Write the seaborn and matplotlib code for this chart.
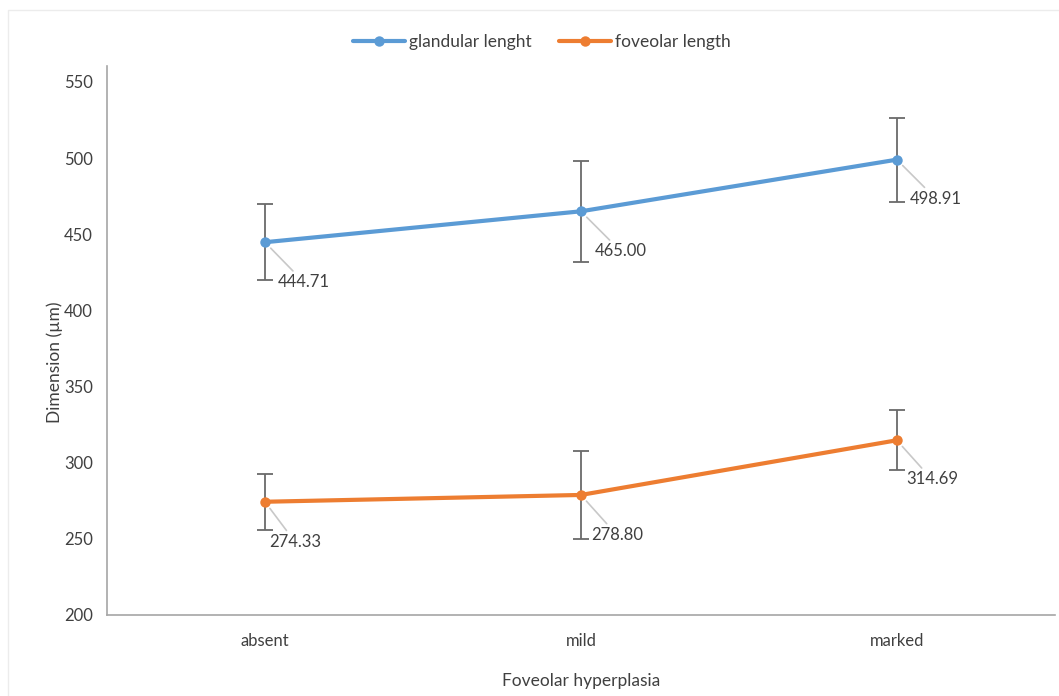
import matplotlib
matplotlib.use("Agg")
import matplotlib.pyplot as plt
import seaborn as sns
import pandas as pd
from matplotlib.patches import Rectangle

# Data
categories = ["absent", "mild", "marked"]
glandular_mean = [444.71, 465.00, 498.91]
glandular_err = [25.0, 33.0, 27.5]
foveolar_mean = [274.33, 278.80, 314.69]
foveolar_err = [18.4, 29.0, 19.7]
series_names = ["glandular lenght", "foveolar length"]
y_ticks = [200, 250, 300, 350, 400, 450, 500, 550]

colors = {"glandular lenght": "#5B9BD5", "foveolar length": "#ED7D31"}
text_color = "#404040"

sns.set_theme(style="white")
plt.rcParams["font.family"] = ["Lato", "DejaVu Sans"]

df = pd.DataFrame({
    "group": categories * 2,
    "series": [series_names[0]] * 3 + [series_names[1]] * 3,
    "value": glandular_mean + foveolar_mean,
    "err": glandular_err + foveolar_err,
})

fig = plt.figure(figsize=(10.59, 6.96), dpi=100)
ax = fig.add_axes([0.101, 0.1164, 0.895, 0.789])

# Light chart-area border
fig.patches.append(Rectangle((8 / 1059, -0.01), 1.02, (686 / 696) + 0.01,
                             transform=fig.transFigure, fill=False,
                             edgecolor="#ececec", linewidth=1.0))

sns.lineplot(data=df, x="group", y="value", hue="series", palette=colors,
             marker="o", markersize=7.5, markeredgewidth=0, linewidth=3,
             sort=False, ax=ax, zorder=3)

pos = {c: i for i, c in enumerate(categories)}
for _, r in df.iterrows():
    ax.errorbar(pos[r["group"]], r["value"], yerr=r["err"], fmt="none",
                ecolor="#6a6a6a", elinewidth=1.3, capsize=6, capthick=1.3,
                zorder=2)

# Value labels with leader lines
offsets = {
    (series_names[0], "absent"): (39, -40),
    (series_names[0], "mild"): (40, -40),
    (series_names[0], "marked"): (39, -39),
    (series_names[1], "absent"): (30, -40),
    (series_names[1], "mild"): (36, -40),
    (series_names[1], "marked"): (35, -39),
}
for _, r in df.iterrows():
    dx, dy = offsets[(r["series"], r["group"])]
    ax.annotate(f"{r['value']:.2f}", xy=(pos[r["group"]], r["value"]),
                xytext=(dx * 0.72, dy * 0.72), textcoords="offset points",
                ha="center", va="center", fontsize=12, color=text_color,
                arrowprops=dict(arrowstyle="-", color="#c8c8c8", lw=1.2,
                                shrinkA=0, shrinkB=6),
                zorder=4)

ax.set_xlim(-0.5, 2.5)
ax.set_ylim(200, 560.5)
ax.set_yticks(y_ticks)
ax.set_xticks(range(len(categories)))
ax.set_xticklabels(categories)
ax.tick_params(axis="both", length=0, labelsize=12, colors=text_color)
ax.tick_params(axis="y", pad=10)
ax.tick_params(axis="x", pad=13)

for s in ["top", "right"]:
    ax.spines[s].set_visible(False)
for s in ["left", "bottom"]:
    ax.spines[s].set_color("#a6a6a6")
    ax.spines[s].set_linewidth(1.2)

ax.set_xlabel("Foveolar hyperplasia", fontsize=12.5, color=text_color)
ax.set_ylabel("Dimension (\u00b5m)", fontsize=12.5, color=text_color)
ax.xaxis.set_label_coords(0.5, -58 / 549)
ax.yaxis.set_label_coords(-44 / 948, 0.461)

handles, labels = ax.get_legend_handles_labels()
ax.legend(handles, labels, loc="center", frameon=False, ncol=2,
          fontsize=12.5, handlelength=3, handletextpad=0.2, columnspacing=1.6,
          labelcolor=text_color,
          bbox_to_anchor=(542 / 1059, 654 / 696),
          bbox_transform=fig.transFigure)

fig.savefig("out.png", dpi=100)
